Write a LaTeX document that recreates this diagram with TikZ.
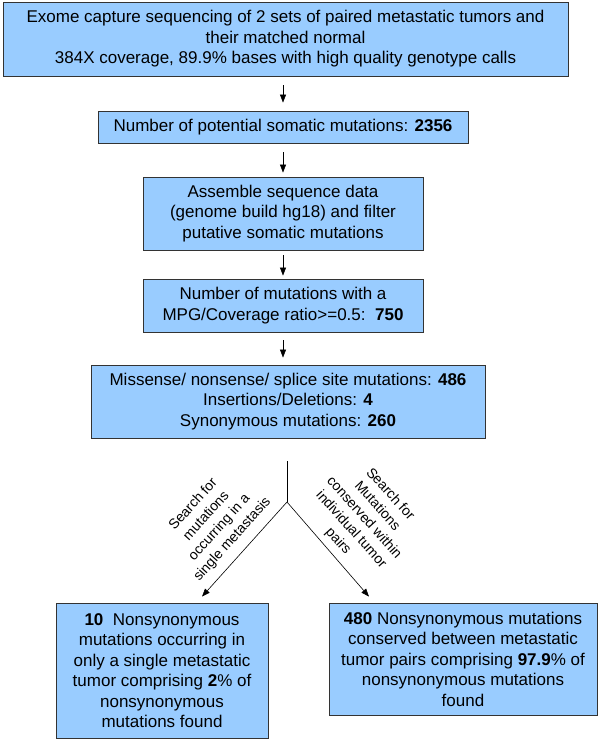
\documentclass[tikz,border=0pt]{standalone}
\usepackage{fontspec}
\setmainfont{Liberation Sans}
\usetikzlibrary{arrows.meta,shadows}
\definecolor{boxblue}{RGB}{153,204,255}
\begin{document}
\begin{tikzpicture}[x=1pt,y=-1pt,
  box/.style={draw=black!80,line width=0.8pt,fill=boxblue,align=center,inner sep=0pt,
    font=\fontsize{17}{20.5}\selectfont,
    drop shadow={shadow xshift=1.3pt,shadow yshift=-1.3pt,fill=black!55,opacity=1}},
  flow/.style={-{Triangle[length=8pt,width=6pt]},semithick},
  lab/.style={align=center,font=\fontsize{14}{17.5}\selectfont}]
\useasboundingbox (0,0) rectangle (600,741);
\node[box,minimum width=565pt,minimum height=74pt] (exome) at (285.5,39) {Exome capture sequencing of 2 sets of paired metastatic tumors and\\their matched normal\\384X coverage, 89.9\% bases with high quality genotype calls};
\node[box,minimum width=370pt,minimum height=32pt] (pot) at (283,127) {Number of potential somatic mutations: \textbf{2356}};
\node[box,minimum width=280pt,minimum height=73pt] (asm) at (283,213.5) {Assemble sequence data\\(genome build hg18) and filter\\putative somatic mutations};
\node[box,minimum width=280pt,minimum height=53pt] (mpg) at (283,305.5) {Number of mutations with a\\MPG/Coverage ratio>=0.5:\ \ \textbf{750}};
\node[box,minimum width=394pt,minimum height=73pt] (cls) at (288,401.5) {Missense/ nonsense/ splice site mutations: \textbf{486}\\Insertions/Deletions: \textbf{4}\\Synonymous mutations: \textbf{260}};
\node[box,minimum width=212pt,minimum height=135pt] (single) at (162,670.5) {\textbf{10}\ \ Nonsynonymous\\mutations occurring in\\only a single metastatic\\tumor comprising \textbf{2}\% of\\nonsynonymous\\mutations found};
\node[box,minimum width=268pt,minimum height=112pt] (cons) at (463,659) {\textbf{480} Nonsynonymous mutations\\conserved between metastatic\\tumor pairs comprising \textbf{97.9}\% of\\nonsynonymous mutations\\found};
\draw[flow,shorten <=9pt,shorten >=8pt] (exome.south -| pot.north) -- (pot.north);
\draw[flow,shorten <=9pt,shorten >=4pt] (pot.south) -- (asm.north);
\draw[flow,shorten <=5pt,shorten >=3pt] (asm.south) -- (mpg.north);
\draw[flow,shorten <=8pt,shorten >=7pt] (mpg.south) -- (mpg.south |- cls.north);
\coordinate (split) at (287,502);
\draw[semithick,shorten <=23pt] (cls.south -| split) -- (split);
\draw[flow] (split) -- ([xshift=40pt,yshift=6pt]single.north);
\draw[flow] (split) -- ([xshift=-94pt,yshift=6pt]cons.north);
\node[lab,rotate=48] (qsingle) at (213,522) {Search for\\mutations\\occurring in a\\single metastasis};
\node[lab,rotate=-48] (qcons) at (364,518) {Search for\\Mutations\\conserved within\\individual tumor\\pairs};
\end{tikzpicture}
\end{document}
